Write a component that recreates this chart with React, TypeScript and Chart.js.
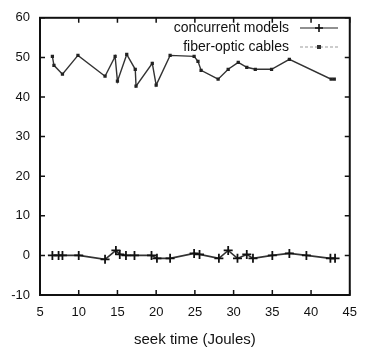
import React, { useEffect, useRef } from "react";
import { Chart, registerables } from "chart.js";

Chart.register(...registerables);

const concurrentX = [6.6, 7.4, 7.9, 10.0, 13.4, 14.8, 15.3, 16.1, 17.2, 19.4, 20.1, 21.8, 24.9, 25.6, 28.1, 29.3, 30.5, 31.7, 32.5, 35.0, 37.2, 39.4, 42.5, 43.1];
const concurrentY = [0, 0, 0, 0, -1, 1.25, 0.25, 0, 0, 0, -0.75, -0.75, 0.5, 0.25, -0.75, 1.25, -0.75, 0.25, -0.75, 0, 0.5, 0, -0.75, -0.75];

const fiberX = [6.6, 6.8, 7.9, 9.9, 13.4, 14.7, 15.0, 16.2, 17.3, 17.4, 19.5, 20.0, 21.8, 24.9, 25.4, 25.8, 28.0, 29.3, 30.6, 31.7, 32.8, 34.9, 37.2, 42.6, 43.0];
const fiberY = [50.25, 48, 45.75, 50.5, 45.25, 50.25, 44, 50.75, 47, 42.75, 48.5, 43, 50.5, 50.25, 49, 46.75, 44.5, 47, 48.75, 47.5, 47, 47, 49.5, 44.5, 44.5];

const seriesLabels = ["concurrent models", "fiber-optic cables"];
const xTicks = [5, 10, 15, 20, 25, 30, 35, 40, 45];
const yTicks = [-10, 0, 10, 20, 30, 40, 50, 60];
const xTitle = "seek time (Joules)";

const FONT = "'Liberation Sans', Arial, sans-serif";

const framePlugin = {
  id: "frame",
  afterDraw(chart: any) {
    const { ctx, chartArea } = chart;
    const xs = chart.scales.x;
    const ys = chart.scales.y;
    ctx.save();
    ctx.strokeStyle = "#111";
    ctx.lineWidth = 2;
    ctx.strokeRect(chartArea.left, chartArea.top, chartArea.right - chartArea.left, chartArea.bottom - chartArea.top);
    ctx.lineWidth = 1.5;
    const tl = 5;
    xTicks.forEach((v) => {
      const px = xs.getPixelForValue(v);
      ctx.beginPath();
      ctx.moveTo(px, chartArea.bottom);
      ctx.lineTo(px, chartArea.bottom - tl);
      ctx.moveTo(px, chartArea.top);
      ctx.lineTo(px, chartArea.top + tl);
      ctx.stroke();
    });
    yTicks.forEach((v) => {
      const py = ys.getPixelForValue(v);
      ctx.beginPath();
      ctx.moveTo(chartArea.left, py);
      ctx.lineTo(chartArea.left + tl, py);
      ctx.moveTo(chartArea.right, py);
      ctx.lineTo(chartArea.right - tl, py);
      ctx.stroke();
    });
    // legend
    ctx.font = "14px " + FONT;
    ctx.fillStyle = "#111";
    ctx.textAlign = "right";
    ctx.textBaseline = "middle";
    const textRight = 289;
    const rows = [28, 47];
    seriesLabels.forEach((lab, i) => {
      const y = rows[i];
      ctx.fillStyle = "#111";
      ctx.fillText(lab, textRight, y);
      ctx.beginPath();
      ctx.strokeStyle = i === 0 ? "#222" : "#999";
      ctx.lineWidth = 1.2;
      if (i === 1) ctx.setLineDash([3, 2]);
      ctx.moveTo(300, y);
      ctx.lineTo(338, y);
      ctx.stroke();
      ctx.setLineDash([]);
      if (i === 0) {
        ctx.beginPath();
        ctx.strokeStyle = "#111";
        ctx.lineWidth = 1.6;
        ctx.moveTo(319, y - 4);
        ctx.lineTo(319, y + 4);
        ctx.moveTo(315, y);
        ctx.lineTo(323, y);
        ctx.stroke();
      } else {
        ctx.fillStyle = "#333";
        ctx.fillRect(317, y - 2, 4, 4);
      }
    });
    ctx.restore();
  },
};

export default function App() {
  const ref = useRef<HTMLCanvasElement>(null);
  useEffect(() => {
    document.body.style.margin = "0";
    const chart = new Chart(ref.current!, {
      type: "line",
      data: {
        datasets: [
          {
            label: seriesLabels[0],
            data: concurrentX.map((x, i) => ({ x, y: concurrentY[i] })),
            borderColor: "#333",
            borderWidth: 1.6,
            pointStyle: "cross",
            pointRadius: 4.5,
            pointBorderWidth: 1.8,
            pointBorderColor: "#111",
            backgroundColor: "#111",
            tension: 0,
          },
          {
            label: seriesLabels[1],
            data: fiberX.map((x, i) => ({ x, y: fiberY[i] })),
            borderColor: "#333",
            borderWidth: 1.4,
            pointStyle: "rect",
            pointRadius: 2.3,
            pointBorderWidth: 0,
            pointBackgroundColor: "#222",
            backgroundColor: "#222",
            tension: 0,
          },
        ],
      },
      options: {
        animation: false,
        responsive: false,
        layout: { padding: { left: 0, right: 10, top: 14, bottom: 0 } },
        plugins: { legend: { display: false }, tooltip: { enabled: false } },
        scales: {
          x: {
            type: "linear",
            min: 5,
            max: 45,
            afterFit: (s: any) => { s.height = 54; },
            afterBuildTicks: (s: any) => { s.ticks = xTicks.map((v) => ({ value: v })); },
            grid: { display: false, drawTicks: false },
            border: { display: false },
            ticks: { color: "#111", padding: 10, font: { family: FONT, size: 13 } },
            title: { display: true, text: xTitle, color: "#111", padding: { top: 4, bottom: 0 }, font: { family: FONT, size: 15 } },
          },
          y: {
            type: "linear",
            min: -10,
            max: 60,
            afterFit: (s: any) => { s.width = 40; },
            afterBuildTicks: (s: any) => { s.ticks = yTicks.map((v) => ({ value: v })); },
            grid: { display: false, drawTicks: false },
            border: { display: false },
            ticks: { color: "#111", padding: 10, font: { family: FONT, size: 13 } },
          },
        },
      },
      plugins: [framePlugin],
    });
    return () => chart.destroy();
  }, []);
  return (
    <div style={{ position: "absolute", left: 0, top: 0, width: 367, height: 349, background: "#fff" }}>
      <canvas ref={ref} width={367} height={349} />
    </div>
  );
}
